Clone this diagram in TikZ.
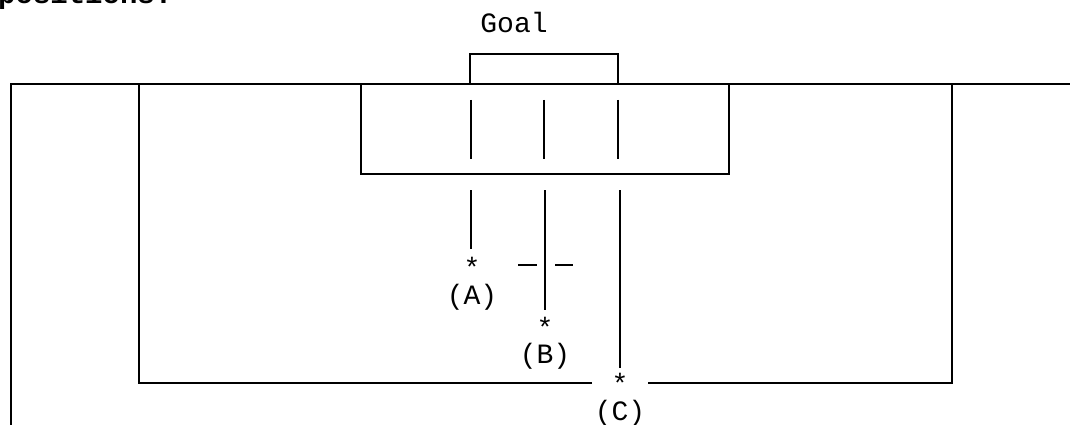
\documentclass[tikz,border=0pt]{standalone}
\usepackage{fontspec}
\newfontfamily\pitchfont{Liberation Mono}
\usetikzlibrary{positioning}
\tikzset{
  pitchline/.style={draw=black,line width=1.7pt},
  spot/.style={font=\pitchfont\fontsize{28}{30}\selectfont,inner sep=0pt,anchor=base},
  lbl/.style={font=\pitchfont\fontsize{28}{30}\selectfont,inner sep=0pt,anchor=base}
}

\begin{document}
\begin{tikzpicture}[x=1pt,y=-1pt]
    \useasboundingbox (0,0) rectangle (1070,425);
    % heading cut off at the top
    \node[lbl,anchor=base west,font=\pitchfont\bfseries\fontsize{29}{30}\selectfont] (head) at (-2,4) {positions:};
    % touchline and penalty box
    \draw[pitchline] (11,425) -- (11,84) -- (1070,84);
    \draw[pitchline] (648,383) -- (952,383) -- (952,84);
    \draw[pitchline] (592,383) -- (139,383) -- (139,84);
    % goal area and goal
    \draw[pitchline] (361,84) -- (361,174) -- (729,174) -- (729,84);
    \draw[pitchline] (470,84) -- (470,54) -- (618,54) -- (618,84);
    \node[lbl] (goal) at (514,33) {Goal};
    % the three positions
    \node[spot] (starA) at (472,277) {*};
    \node[spot] (starB) at (545,337) {*};
    \node[spot] (starC) at (620,393) {*};
    \node[lbl] (labA) at (472,304) {(A)};
    \node[lbl] (labB) at (545,363) {(B)};
    \node[lbl] (labC) at (620,420) {(C)};
    \foreach \px/\py in {471/249,545/310,620/368} {
      \draw[pitchline] (\px,190) -- (\px,\py);
    }
    \foreach \px in {471,544,618} {
      \draw[pitchline] (\px,100) -- (\px,159);
    }
    \draw[pitchline] (518,265) -- (537,265);
    \draw[pitchline] (555,265) -- (573,265);
\end{tikzpicture}
\end{document}
